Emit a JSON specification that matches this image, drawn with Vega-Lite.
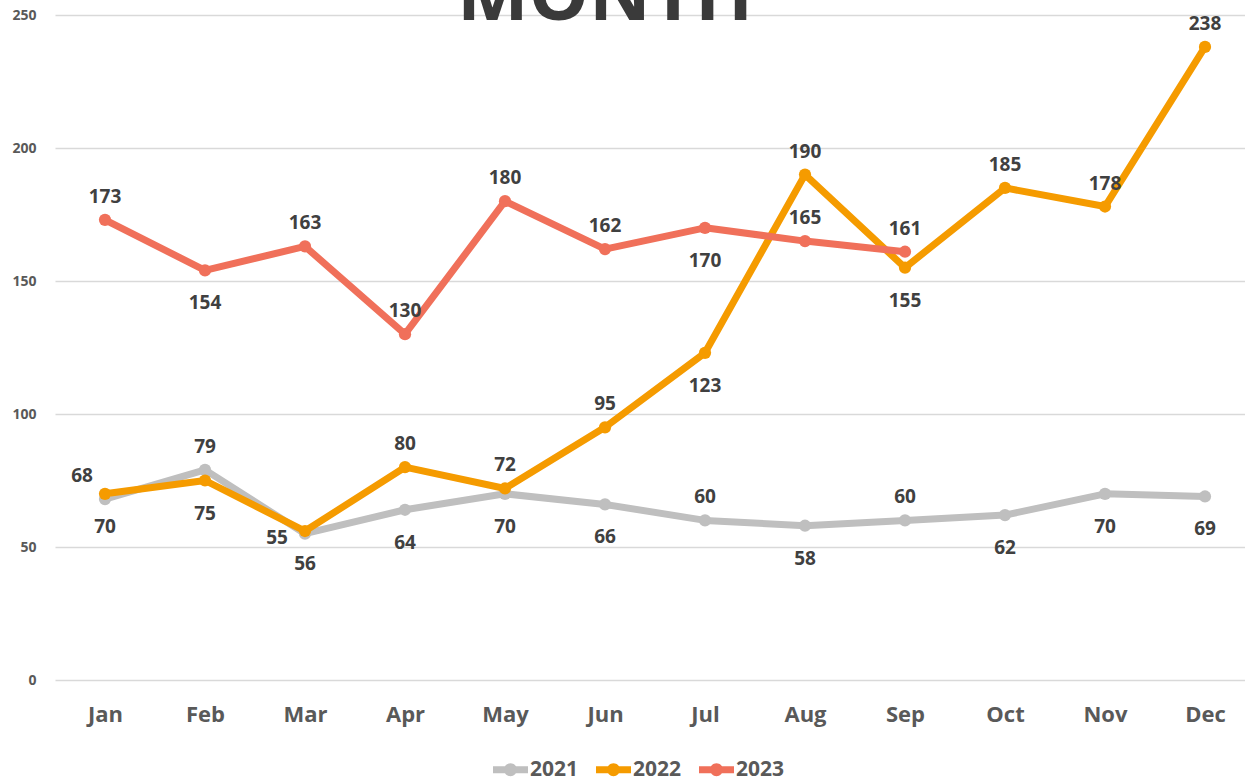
{
  "$schema": "https://vega.github.io/schema/vega-lite/v6.json",
  "width": 1190,
  "height": 665,
  "autosize": "none",
  "padding": {"left": 55, "top": 15, "right": 0, "bottom": 103},
  "background": "white",
  "title": {
    "text": "MONTH",
    "orient": "top",
    "anchor": "middle",
    "font": "Open Sans",
    "fontSize": 76,
    "fontWeight": "bold",
    "color": "#3A3A3A",
    "baseline": "alphabetic",
    "offset": 0,
    "dy": 88,
    "dx": -45
  },
  "config": {
    "view": {"stroke": null},
    "font": "Open Sans"
  },
  "data": {
    "values": [
      {"month": "Jan", "year": "2021", "value": 68},
      {"month": "Feb", "year": "2021", "value": 79},
      {"month": "Mar", "year": "2021", "value": 55},
      {"month": "Apr", "year": "2021", "value": 64},
      {"month": "May", "year": "2021", "value": 70},
      {"month": "Jun", "year": "2021", "value": 66},
      {"month": "Jul", "year": "2021", "value": 60},
      {"month": "Aug", "year": "2021", "value": 58},
      {"month": "Sep", "year": "2021", "value": 60},
      {"month": "Oct", "year": "2021", "value": 62},
      {"month": "Nov", "year": "2021", "value": 70},
      {"month": "Dec", "year": "2021", "value": 69},
      {"month": "Jan", "year": "2022", "value": 70},
      {"month": "Feb", "year": "2022", "value": 75},
      {"month": "Mar", "year": "2022", "value": 56},
      {"month": "Apr", "year": "2022", "value": 80},
      {"month": "May", "year": "2022", "value": 72},
      {"month": "Jun", "year": "2022", "value": 95},
      {"month": "Jul", "year": "2022", "value": 123},
      {"month": "Aug", "year": "2022", "value": 190},
      {"month": "Sep", "year": "2022", "value": 155},
      {"month": "Oct", "year": "2022", "value": 185},
      {"month": "Nov", "year": "2022", "value": 178},
      {"month": "Dec", "year": "2022", "value": 238},
      {"month": "Jan", "year": "2023", "value": 173},
      {"month": "Feb", "year": "2023", "value": 154},
      {"month": "Mar", "year": "2023", "value": 163},
      {"month": "Apr", "year": "2023", "value": 130},
      {"month": "May", "year": "2023", "value": 180},
      {"month": "Jun", "year": "2023", "value": 162},
      {"month": "Jul", "year": "2023", "value": 170},
      {"month": "Aug", "year": "2023", "value": 165},
      {"month": "Sep", "year": "2023", "value": 161}
    ]
  },
  "encoding": {
    "x": {
      "field": "month",
      "type": "ordinal",
      "sort": ["Jan","Feb","Mar","Apr","May","Jun","Jul","Aug","Sep","Oct","Nov","Dec"],
      "scale": {"type": "point", "padding": 0.45, "align": 0.5556},
      "axis": {
        "title": null,
        "domain": false,
        "ticks": false,
        "grid": false,
        "labelAngle": 0,
        "labelPadding": 24,
        "labelFont": "Open Sans",
        "labelFontSize": 22,
        "labelFontWeight": "bold",
        "labelColor": "#595959"
      }
    },
    "y": {
      "field": "value",
      "type": "quantitative",
      "scale": {"domain": [0, 250], "nice": false},
      "axis": {
        "title": null,
        "values": [0, 50, 100, 150, 200, 250],
        "domain": false,
        "ticks": false,
        "grid": true,
        "gridColor": "#D9D9D9",
        "gridWidth": 1.3,
        "labelPadding": 19,
        "labelFont": "Open Sans",
        "labelFontSize": 14,
        "labelFontWeight": "bold",
        "labelColor": "#595959"
      }
    }
  },
  "layer": [
    {
      "encoding": {
        "color": {
          "field": "year",
          "type": "nominal",
          "scale": {"domain": ["2021", "2022", "2023"], "range": ["#BFBFBF", "#F59B00", "#F0705A"]},
          "legend": {
            "title": null,
            "orient": "none",
            "direction": "horizontal",
            "legendX": 438,
            "legendY": 737,
            "symbolType": "M-1,-0.2H1V0.2H-1Z M-0.37,0A0.37,0.37 0 1,1 0.37,0A0.37,0.37 0 1,1 -0.37,0Z",
            "symbolSize": 1225,
            "symbolStrokeWidth": 0,
            "symbolOpacity": 1,
            "labelFont": "Open Sans",
            "labelFontSize": 21,
            "labelFontWeight": "bold",
            "labelColor": "#595959",
            "labelOffset": 2,
            "columnPadding": 17,
            "encode": {
              "symbols": {
                "update": {
                  "fill": {"scale": "color", "field": "value"},
                  "strokeWidth": {"value": 0},
                  "opacity": {"value": 1}
                }
              }
            }
          }
        }
      },
      "layer": [
        {"mark": {"type": "line", "strokeWidth": 7, "strokeCap": "round", "strokeJoin": "round"}},
        {"mark": {"type": "point", "filled": true, "size": 150, "opacity": 1}}
      ]
    },
    {
      "transform": [{"filter": "indexof(['2021|Feb','2021|Jul','2021|Sep','2022|Apr','2022|May','2022|Jun','2022|Aug','2022|Oct','2022|Nov','2022|Dec','2023|Jan','2023|Mar','2023|Apr','2023|May','2023|Jun','2023|Aug','2023|Sep'], datum.year + '|' + datum.month) >= 0"}],
      "mark": {"type": "text", "dy": -23, "baseline": "middle", "font": "Open Sans", "fontSize": 19, "fontWeight": "bold", "color": "#404040"},
      "encoding": {"text": {"field": "value", "type": "quantitative"}}
    },
    {
      "transform": [{"filter": "indexof(['2021|Apr','2021|May','2021|Jun','2021|Aug','2021|Oct','2021|Nov','2021|Dec','2022|Jan','2022|Feb','2022|Mar','2022|Jul','2022|Sep','2023|Feb','2023|Jul'], datum.year + '|' + datum.month) >= 0"}],
      "mark": {"type": "text", "dy": 33, "baseline": "middle", "font": "Open Sans", "fontSize": 19, "fontWeight": "bold", "color": "#404040"},
      "encoding": {"text": {"field": "value", "type": "quantitative"}}
    },
    {
      "transform": [{"filter": "datum.year == '2021' && datum.month == 'Mar'"}],
      "mark": {"type": "text", "dx": -28, "dy": 4, "baseline": "middle", "font": "Open Sans", "fontSize": 19, "fontWeight": "bold", "color": "#404040"},
      "encoding": {"text": {"field": "value", "type": "quantitative"}}
    },
    {
      "transform": [{"filter": "datum.year == '2021' && datum.month == 'Jan'"}],
      "mark": {"type": "text", "dx": -23, "dy": -23, "baseline": "middle", "font": "Open Sans", "fontSize": 19, "fontWeight": "bold", "color": "#404040"},
      "encoding": {"text": {"field": "value", "type": "quantitative"}}
    }
  ]
}
